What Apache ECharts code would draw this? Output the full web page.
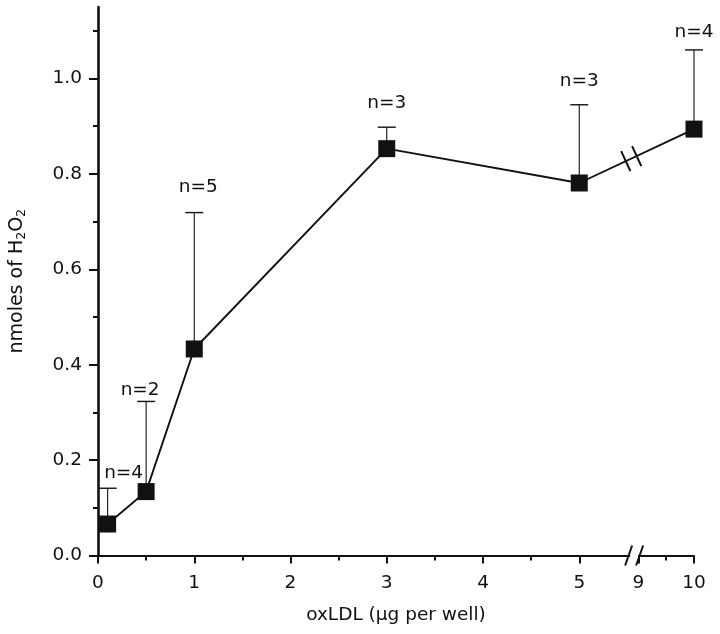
<!DOCTYPE html>
<html><head><meta charset="utf-8">
<script src="https://cdn.jsdelivr.net/npm/echarts@6/dist/echarts.min.js"></script>
<style>html,body{margin:0;padding:0;background:#fff}#c{width:720px;height:634px}</style>
</head><body><div id="c"></div>
<script>
// ---- data ----
const xValues = [0.1, 0.5, 1, 3, 5, 10];
const yValues = [0.066, 0.134, 0.433, 0.853, 0.781, 0.894];
const errUpper = [0.141, 0.323, 0.719, 0.898, 0.945, 1.060];
const nLabels = ['n=4', 'n=2', 'n=5', 'n=3', 'n=3', 'n=4'];
const xTickLabels = [0, 1, 2, 3, 4, 5, 9, 10];
const xMinorTicks = [0.5, 1.5, 2.5, 3.5, 4.5, 9.5];
const yTickLabels = [0, 0.2, 0.4, 0.6, 0.8, 1.0];
const yMinorTicks = [0.1, 0.3, 0.5, 0.7, 0.9, 1.1];

// ---- layout (label nudges in px) ----
const labelDX = [16, -6, 4, 0, 0, 0];
const labelDY = [-15, -11, -25, -24, -23.5, -17.5];

// ---- broken x axis mapping (5 .. 9 removed) ----
const BREAK_FROM = 5, BREAK_TO = 9, POS9 = 5.614, SCALE_HI = 0.578;
function fwd(x) { return x <= BREAK_FROM ? x : POS9 + (x - BREAK_TO) * SCALE_HI; }
function inv(v) { return v <= BREAK_FROM + 0.3 ? v : BREAK_TO + (v - POS9) / SCALE_HI; }
const X_MAX = fwd(10);
const Y_MAX = 1.15;

const FONT = '"DejaVu Sans", Arial, sans-serif';
const INK = '#111';

const lineData = xValues.map((x, i) => [fwd(x), yValues[i]]);
const errData = xValues.map((x, i) => [fwd(x), yValues[i], errUpper[i]]);

// break marks positions (transformed axis units)
const AXIS_BREAK_X = 5.57;
const LINE_BREAK_X = 5.54;
const i5 = xValues.indexOf(5), i10 = xValues.indexOf(10);
const lineBreakY = yValues[i5] + (yValues[i10] - yValues[i5]) * (LINE_BREAK_X - fwd(5)) / (fwd(10) - fwd(5));
const breakData = [[AXIS_BREAK_X, 0, 0], [LINE_BREAK_X, lineBreakY, 1]];

const chart = echarts.init(document.getElementById('c'), null, { renderer: 'canvas' });

const baseX = { type: 'value', min: 0, max: X_MAX, gridIndex: 0, position: 'bottom', splitLine: { show: false } };
const baseY = { type: 'value', min: 0, max: Y_MAX, gridIndex: 0, position: 'left', splitLine: { show: false } };

chart.setOption({
  animation: false,
  backgroundColor: '#fff',
  grid: { left: 98, right: 26, top: 7, bottom: 78.5, containLabel: false },
  xAxis: [
    Object.assign({}, baseX, {
      name: 'oxLDL (\u00b5g per well)',
      nameLocation: 'middle',
      nameGap: 50,
      nameTextStyle: { color: INK, fontSize: 18.5, fontFamily: FONT },
      axisLine: { show: true, lineStyle: { color: INK, width: 2 } },
      axisTick: { show: true, length: 8, lineStyle: { color: INK, width: 2 }, customValues: xTickLabels.map(fwd) },
      axisLabel: {
        show: true, margin: 18, color: INK, fontSize: 18.5, fontFamily: FONT,
        customValues: xTickLabels.map(fwd),
        formatter: v => String(Math.round(inv(v)))
      }
    }),
    Object.assign({}, baseX, {
      axisLine: { show: false },
      axisTick: { show: true, length: 5, lineStyle: { color: INK, width: 2 }, customValues: xMinorTicks.map(fwd) },
      axisLabel: { show: false }
    })
  ],
  yAxis: [
    Object.assign({}, baseY, {
      name: 'nmoles of H{s|2}O{s|2}',
      nameLocation: 'middle',
      nameGap: 70,
      nameRotate: 90,
      nameTextStyle: {
        color: INK, fontSize: 19, fontFamily: FONT,
        rich: { s: { fontSize: 12.5, fontFamily: FONT, color: INK, verticalAlign: 'bottom', padding: [8, 0, 0, 0] } }
      },
      axisLine: { show: true, lineStyle: { color: INK, width: 2.6 } },
      axisTick: { show: true, length: 9, lineStyle: { color: INK, width: 2 }, customValues: yTickLabels },
      axisLabel: {
        show: true, margin: 16, color: INK, fontSize: 18.5, fontFamily: FONT,
        customValues: yTickLabels,
        formatter: v => v.toFixed(1)
      }
    }),
    Object.assign({}, baseY, {
      axisLine: { show: false },
      axisTick: { show: true, length: 5, lineStyle: { color: INK, width: 2 }, customValues: yMinorTicks },
      axisLabel: { show: false }
    })
  ],
  series: [
    {
      type: 'custom',
      name: 'error',
      xAxisIndex: 0, yAxisIndex: 0,
      clip: false,
      z: 2,
      data: errData,
      renderItem: function (params, api) {
        const i = params.dataIndex;
        const p0 = api.coord([api.value(0), api.value(1)]);
        const p1 = api.coord([api.value(0), api.value(2)]);
        return {
          type: 'group',
          children: [
            { type: 'line', shape: { x1: p0[0], y1: p0[1], x2: p1[0], y2: p1[1] }, style: { stroke: INK, lineWidth: 1.1 } },
            { type: 'line', shape: { x1: p1[0] - 9, y1: p1[1], x2: p1[0] + 9, y2: p1[1] }, style: { stroke: INK, lineWidth: 1.4 } },
            {
              type: 'text', x: p1[0] + labelDX[i], y: p1[1] + labelDY[i],
              style: { text: nLabels[i], fill: INK, fontSize: 18.5, fontFamily: FONT, align: 'center', verticalAlign: 'middle' }
            }
          ]
        };
      }
    },
    {
      type: 'line',
      name: 'H2O2',
      xAxisIndex: 0, yAxisIndex: 0,
      z: 3,
      data: lineData,
      symbol: 'rect',
      symbolSize: 17,
      itemStyle: { color: INK },
      lineStyle: { color: INK, width: 1.9 },
      label: { show: false }
    },
    {
      type: 'custom',
      name: 'breaks',
      xAxisIndex: 0, yAxisIndex: 0,
      clip: false,
      z: 4,
      data: breakData,
      renderItem: function (params, api) {
        const c = api.coord([api.value(0), api.value(1)]);
        const kind = api.value(2);
        const st = { stroke: INK, lineWidth: 2 };
        if (kind === 0) {
          return {
            type: 'group',
            children: [
              { type: 'rect', shape: { x: c[0] - 4, y: c[1] - 2.5, width: 8, height: 5 }, style: { fill: '#fff' } },
              { type: 'line', shape: { x1: c[0] - 9, y1: c[1] + 10, x2: c[0] - 2, y2: c[1] - 10 }, style: st },
              { type: 'line', shape: { x1: c[0] + 2, y1: c[1] + 10, x2: c[0] + 9, y2: c[1] - 10 }, style: st }
            ]
          };
        }
        const dx = 4.6, dy = 10; // perpendicular to the rising line
        const ox = 6 * 0.91, oy = -6 * 0.42;
        return {
          type: 'group',
          children: [
            { type: 'line', shape: { x1: c[0] - ox - dx, y1: c[1] - oy - dy, x2: c[0] - ox + dx, y2: c[1] - oy + dy }, style: st },
            { type: 'line', shape: { x1: c[0] + ox - dx, y1: c[1] + oy - dy, x2: c[0] + ox + dx, y2: c[1] + oy + dy }, style: st }
          ]
        };
      }
    }
  ]
});
</script>
</body></html>
